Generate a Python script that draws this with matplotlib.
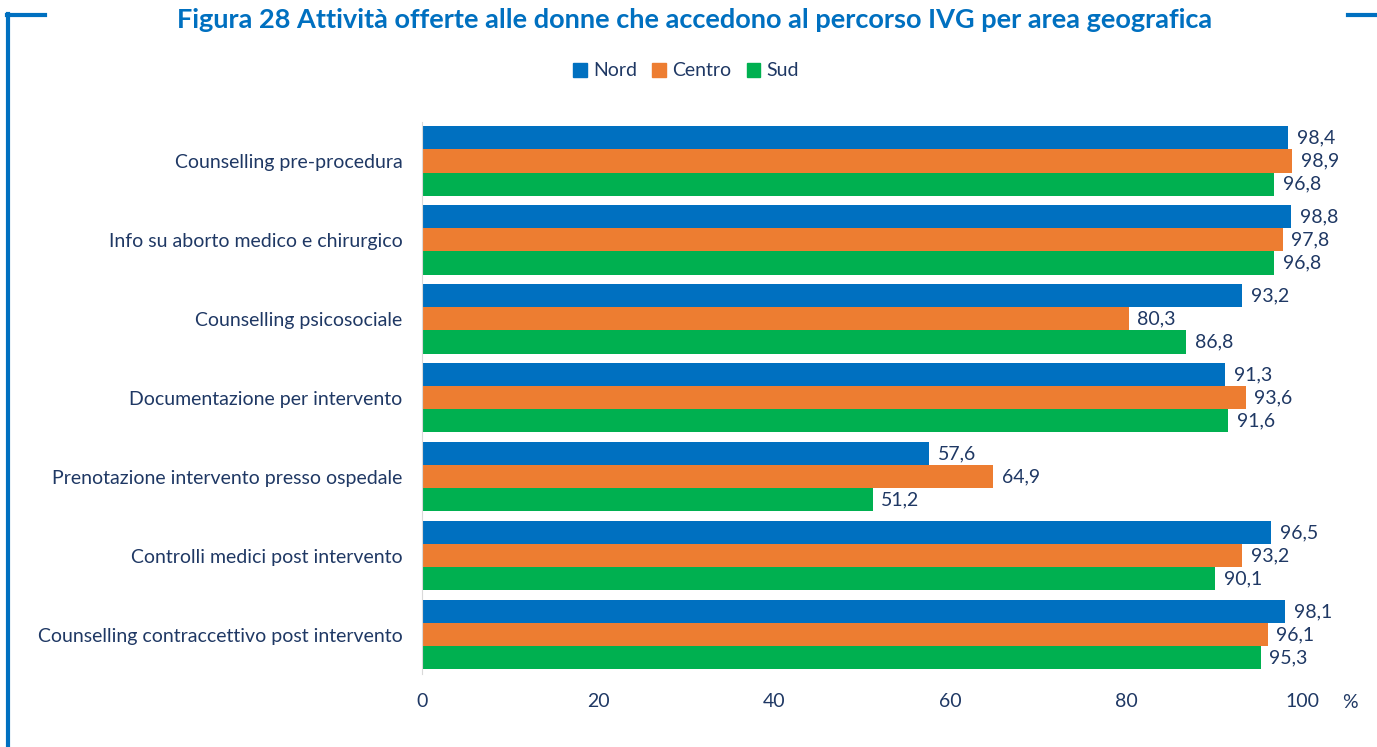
import numpy as np
import matplotlib.pyplot as plt
from matplotlib.lines import Line2D

plt.rcParams['font.family'] = ['Lato', 'DejaVu Sans']

categories = ['Counselling pre-procedura', 'Info su aborto medico e chirurgico',
              'Counselling psicosociale', 'Documentazione per intervento',
              'Prenotazione intervento presso ospedale', 'Controlli medici post intervento',
              'Counselling contraccettivo post intervento']
nord = [98.4, 98.8, 93.2, 91.3, 57.6, 96.5, 98.1]
centro = [98.9, 97.8, 80.3, 93.6, 64.9, 93.2, 96.1]
sud = [96.8, 96.8, 86.8, 91.6, 51.2, 90.1, 95.3]
series = [('Nord', nord, '#0070C0'), ('Centro', centro, '#ED7D31'), ('Sud', sud, '#00B050')]

navy = '#1F3864'
fs = 14
fig = plt.figure(figsize=(13.77, 7.47), dpi=100)
ax = fig.add_axes([422 / 1377, 1 - 674 / 747, 880 / 1377, 552.5 / 747])

y = np.arange(len(categories))
h = 0.293
for i, (name, vals, col) in enumerate(series):
    pos = y + (i - 1) * h
    bars = ax.barh(pos, vals, height=h, color=col, label=name)
    for b, v in zip(bars, vals):
        ax.text(v + 1.0, b.get_y() + b.get_height() / 2, f'{v:.1f}'.replace('.', ','),
                va='center', ha='left', fontsize=fs, color=navy)

ax.set_xlim(0, 100)
ax.set_ylim(len(categories) - 0.5, -0.5)
ax.set_yticks(y)
ax.set_yticklabels(categories, fontsize=fs, color=navy)
ax.set_xticks(np.arange(0, 101, 20))
ax.tick_params(axis='x', length=0, pad=14, labelsize=fs, labelcolor=navy)
ax.tick_params(axis='y', length=0, pad=14)
for s in ['top', 'right', 'bottom']:
    ax.spines[s].set_visible(False)
ax.spines['left'].set_color('#D9D9D9')
ax.text(1350, 747 - 703, '%', transform=None, fontsize=fs, color=navy, ha='center', va='center')

fig.text(695 / 1377, 1 - 20 / 747, 'Figura 28 Attività offerte alle donne che accedono al percorso IVG per area geografica',
         ha='center', va='center', fontsize=19.5, fontweight='bold', color='#0070C0')

handles = [plt.Rectangle((0, 0), 1, 1, color=c) for _, _, c in series]
fig.legend(handles, [n for n, _, _ in series], loc='center', bbox_to_anchor=(686 / 1377, 1 - 71 / 747),
           ncol=3, frameon=False, fontsize=fs, handlelength=0.7, handleheight=0.7,
           handletextpad=0.3, columnspacing=0.8, labelcolor=navy)

# frame corners
fig.add_artist(Line2D([8 / 1377, 8 / 1377], [0, 1 - 14 / 747], color='#0070C0', lw=3))
fig.add_artist(Line2D([6.5 / 1377, 45 / 1377], [1 - 15 / 747, 1 - 15 / 747], color='#0070C0', lw=3))
fig.add_artist(Line2D([1348 / 1377, 1], [1 - 15 / 747, 1 - 15 / 747], color='#0070C0', lw=3))

fig.savefig('out.png', dpi=100)
